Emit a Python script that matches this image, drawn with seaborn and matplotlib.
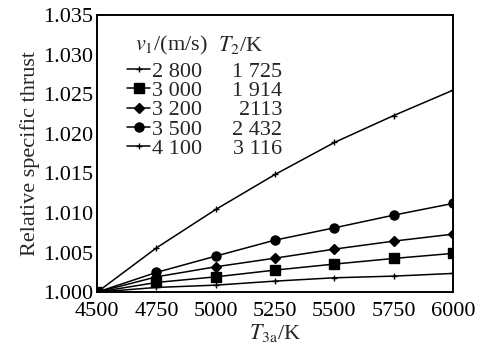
import matplotlib
matplotlib.use("Agg")
import matplotlib.pyplot as plt
from matplotlib.lines import Line2D
import seaborn as sns
import pandas as pd

T3a = [4500, 4750, 5000, 5250, 5500, 5750, 6000]
v1_labels = ["2 800", "3 000", "3 200", "3 500", "4 100"]
T2_labels = ["1 725", "1 914", "2113", "2 432", "3 116"]
s2800 = [1.0, 1.00059, 1.00088, 1.00139, 1.00181, 1.00202, 1.00236]
s3000 = [1.0, 1.00122, 1.00193, 1.00278, 1.00354, 1.00425, 1.00489]
s3200 = [1.0, 1.00193, 1.00320, 1.00429, 1.00543, 1.00644, 1.00732]
s3500 = [1.0, 1.00249, 1.00455, 1.00657, 1.00812, 1.00972, 1.01120]
s4100 = [1.0, 1.00559, 1.01044, 1.01486, 1.01890, 1.02230, 1.02550]
series = [s2800, s3000, s3200, s3500, s4100]
markers = ["+", "s", "D", "o", "+"]
msizes = [5, 6.5, 5.5, 6.5, 5]

sns.set_theme(style="white")
plt.rcParams["font.family"] = ["Liberation Serif", "DejaVu Serif"]
plt.rcParams["mathtext.fontset"] = "stix"

rows = []
for lab, vals in zip(v1_labels, series):
    for x, y in zip(T3a, vals):
        rows.append({"T3a": x, "thrust": y, "v1": lab})
df = pd.DataFrame(rows)

FS = 16
fig = plt.figure(figsize=(4.86, 3.49), dpi=100)
ax = fig.add_axes([0.2, 0.163, 0.732, 0.794])

for lab, m, ms in zip(v1_labels, markers, msizes):
    sub = df[df["v1"] == lab]
    sns.lineplot(data=sub, x="T3a", y="thrust", ax=ax, color="black",
                 marker=m, markersize=ms, markeredgecolor="black",
                 markeredgewidth=1.0, linewidth=1.1, legend=False)

ax.set_xlim(4500, 6000)
ax.set_ylim(1.000, 1.035)
ax.set_xticks([4500, 4750, 5000, 5250, 5500, 5750, 6000])
ax.set_yticks([1.000, 1.005, 1.010, 1.015, 1.020, 1.025, 1.030, 1.035])
ax.set_yticklabels([f"{v:.3f}" for v in ax.get_yticks()])
ax.tick_params(direction="in", length=6, width=1.2, labelsize=FS, colors="black",
               top=False, right=False)
ax.tick_params(axis="y", pad=3)
ax.tick_params(axis="x", pad=7)
for sp in ax.spines.values():
    sp.set_color("black")
    sp.set_linewidth(1.4)
ax.set_xlabel(r"$T_{\rm 3a}$/K", fontsize=FS, labelpad=1)
ax.set_ylabel("Relative specific thrust", fontsize=FS, labelpad=2)

handles = [Line2D([0], [0], color="black", marker=m, markersize=ms, lw=1.1,
                  markeredgewidth=1.0) for m, ms in zip(markers, msizes)]
leg = ax.legend(handles, v1_labels, loc="upper left", bbox_to_anchor=(0.06, 0.865),
                frameon=False, fontsize=FS, handlelength=1.0, handletextpad=0.12,
                labelspacing=-0.06, borderaxespad=0)
ax.text(0.105, 0.89, r"$v_1$/(m/s)", transform=ax.transAxes, fontsize=FS,
        ha="left", va="center")
ax.text(0.34, 0.89, r"$T_2$/K", transform=ax.transAxes, fontsize=FS,
        ha="left", va="center")

fig.canvas.draw()
inv = ax.transAxes.inverted()
for t, T in zip(leg.get_texts(), T2_labels):
    bb = t.get_window_extent()
    yc = inv.transform(((bb.x0 + bb.x1) / 2, (bb.y0 + bb.y1) / 2))[1]
    ax.text(0.52, yc, T, transform=ax.transAxes, fontsize=FS, ha="right", va="center")

fig.savefig("out.png", dpi=100)
